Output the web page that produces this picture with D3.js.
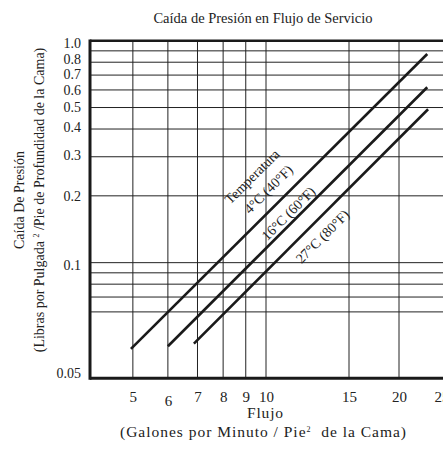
<!DOCTYPE html>
<html>
<head>
<meta charset="utf-8">
<script src="https://cdn.jsdelivr.net/npm/d3@7"></script>
<style>
  body { margin: 0; background: #fff; }
  text { font-family: "Liberation Serif", "Times New Roman", serif; fill: #222; }
</style>
</head>
<body>
<div id="chart"></div>
<script>

// Set dimensions for the plot
const width = 443;
const height = 451;

// values
const series = ["4°C (40°F)", "16°C (60°F)", "27°C (80°F)"];
const flowStart = [4.95, 6.0, 6.87];
const flowEnd = [23.2, 23.2, 23.3];
const dropStart = [0.0542, 0.0546, 0.055];
const dropEnd = [0.871, 0.617, 0.491];

// where each label sits along its line, and how far off it
const labelFlow = [10.7, 11.5, 12.5];
const labelOffset = [16, 8.5, -15.5];

const xTicks = [5, 6, 7, 8, 9, 10, 15, 20, 25];
const xGrid = [5, 6, 7, 8, 9, 10, 15, 20];
const yTicks = [1, 0.8, 0.7, 0.6, 0.5, 0.4, 0.3, 0.2, 0.1, 0.05];
const yTickLabels = ["1.0", "0.8", "0.7", "0.6", "0.5", "0.4", "0.3", "0.2", "0.1", "0.05"];
const yGrid = [0.06, 0.07, 0.08, 0.09, 0.1, 0.2, 0.3, 0.4, 0.5, 0.6, 0.7, 0.8, 0.9];

// small vertical nudges, the printed labels do not sit exactly on their lines
const yLabelNudge = [2, -3.5, -1.5, 0.5, -1, -2, -1.5, 0.5, 2, -5];

const svg = d3.select("#chart")
  .append("svg")
  .attr("width", width)
  .attr("height", height);

// the printed chart is not a perfectly even log grid, so the scales are piecewise
const x = d3.scaleLog()
  .domain([4, 10, 15, 20, 25.2])
  .range([90, 266, 349, 399, 443]);

const y = d3.scaleLog()
  .domain([0.05, 0.06, 1])
  .range([378.3, 311.9, 40.7]);

const plotLeft = x(4), plotRight = width, plotTop = y(1), plotBottom = y(0.05);

// grid lines
svg.append("g")
  .selectAll("line")
  .data(xGrid)
  .enter()
  .append("line")
    .attr("x1", d => x(d)).attr("x2", d => x(d))
    .attr("y1", plotTop).attr("y2", plotBottom)
    .attr("stroke", "#222")
    .attr("stroke-width", 1);

svg.append("g")
  .selectAll("line")
  .data(yGrid)
  .enter()
  .append("line")
    .attr("x1", plotLeft).attr("x2", plotRight)
    .attr("y1", d => y(d)).attr("y2", d => y(d))
    .attr("stroke", "#222")
    .attr("stroke-width", 1);

// frame
svg.append("line")
  .attr("x1", plotLeft).attr("x2", plotRight).attr("y1", plotTop).attr("y2", plotTop)
  .attr("stroke", "#1a1a1a").attr("stroke-width", 2.5);
svg.append("line")
  .attr("x1", plotLeft).attr("x2", plotRight).attr("y1", plotBottom).attr("y2", plotBottom)
  .attr("stroke", "#1a1a1a").attr("stroke-width", 3);
svg.append("line")
  .attr("x1", plotLeft).attr("x2", plotLeft).attr("y1", plotTop - 1.2).attr("y2", plotBottom + 1.5)
  .attr("stroke", "#1a1a1a").attr("stroke-width", 3);

// axes (labels only, the frame is drawn above)
const yAxis = svg.append("g")
  .attr("transform", `translate(${plotLeft},0)`)
  .call(d3.axisLeft(y)
    .tickValues(yTicks)
    .tickSize(0)
    .tickPadding(9)
    .tickFormat((d, i) => yTickLabels[i]));
yAxis.select(".domain").remove();
yAxis.selectAll("text")
  .attr("font-size", "14px")
  .attr("font-family", "Liberation Serif")
  .attr("fill", "#222")
  .attr("y", (d, i) => yLabelNudge[i]);

const xAxis = svg.append("g")
  .attr("transform", `translate(0,${plotBottom})`)
  .call(d3.axisBottom(x)
    .tickValues(xTicks)
    .tickSize(0)
    .tickPadding(13)
    .tickFormat(d3.format("d")));
xAxis.select(".domain").remove();
xAxis.selectAll("text").attr("font-size", "15px").attr("font-family", "Liberation Serif").attr("fill", "#222");
// the "6" sits a little lower on the original
xAxis.selectAll(".tick").filter(d => d === 6).select("text").attr("dy", "1em");

// the three temperature lines
const line = d3.line().x(d => x(d[0])).y(d => y(d[1]));

svg.append("g")
  .selectAll("path")
  .data(series)
  .enter()
  .append("path")
    .attr("d", (d, i) => line([[flowStart[i], dropStart[i]], [flowEnd[i], dropEnd[i]]]))
    .attr("fill", "none")
    .attr("stroke", "#1a1a1a")
    .attr("stroke-width", 2.6);

// put a label along line i
function labelAt(i, flow, offset, txt) {
  const x0 = x(flowStart[i]), y0 = y(dropStart[i]);
  const x1 = x(flowEnd[i]), y1 = y(dropEnd[i]);
  const px = x(flow);
  const py = y0 + (px - x0) / (x1 - x0) * (y1 - y0);
  const ang = Math.atan2(y1 - y0, x1 - x0);
  const cx = px + Math.sin(ang) * offset;
  const cy = py - Math.cos(ang) * offset;
  svg.append("text")
    .attr("transform", `translate(${cx},${cy}) rotate(${ang * 180 / Math.PI})`)
    .attr("text-anchor", "middle")
    .attr("dominant-baseline", "central")
    .attr("font-size", "14px")
    .text(txt);
}

labelAt(0, 10.6, 36.5, "Temperatura");
series.forEach((s, i) => labelAt(i, labelFlow[i], labelOffset[i], s));

// titles
svg.append("text")
  .attr("x", 263).attr("y", 23)
  .attr("text-anchor", "middle")
  .attr("font-size", "14.5px")
  .text("Caída de Presión en Flujo de Servicio");

svg.append("text")
  .attr("x", 265).attr("y", 418)
  .attr("text-anchor", "middle")
  .attr("font-size", "15.5px")
  .attr("textLength", 36)
  .attr("lengthAdjust", "spacing")
  .text("Flujo");

const xSub = svg.append("text")
  .attr("x", 263).attr("y", 437)
  .attr("text-anchor", "middle")
  .attr("font-size", "15.5px")
  .attr("textLength", 286)
  .attr("lengthAdjust", "spacing")
  .style("white-space", "pre");
xSub.append("tspan").text("(Galones por Minuto / Pie");
xSub.append("tspan").attr("font-size", "8px").attr("dy", "-5").text("2");
xSub.append("tspan").attr("dy", "5").text("  de la Cama)");

svg.append("text")
  .attr("transform", "translate(24,200) rotate(-90)")
  .attr("text-anchor", "middle")
  .attr("font-size", "14px")
  .text("Caída De Presión");

const ySub = svg.append("text")
  .attr("transform", "translate(44,200) rotate(-90)")
  .attr("text-anchor", "middle")
  .attr("font-size", "14px")
  .style("white-space", "pre");
ySub.append("tspan").text("(Libras por Pulgada ");
ySub.append("tspan").attr("font-size", "8px").attr("dy", "-5").text("2");
ySub.append("tspan").attr("dy", "5").text(" /Pie de Profundidad de la Cama)");

</script>
</body>
</html>
